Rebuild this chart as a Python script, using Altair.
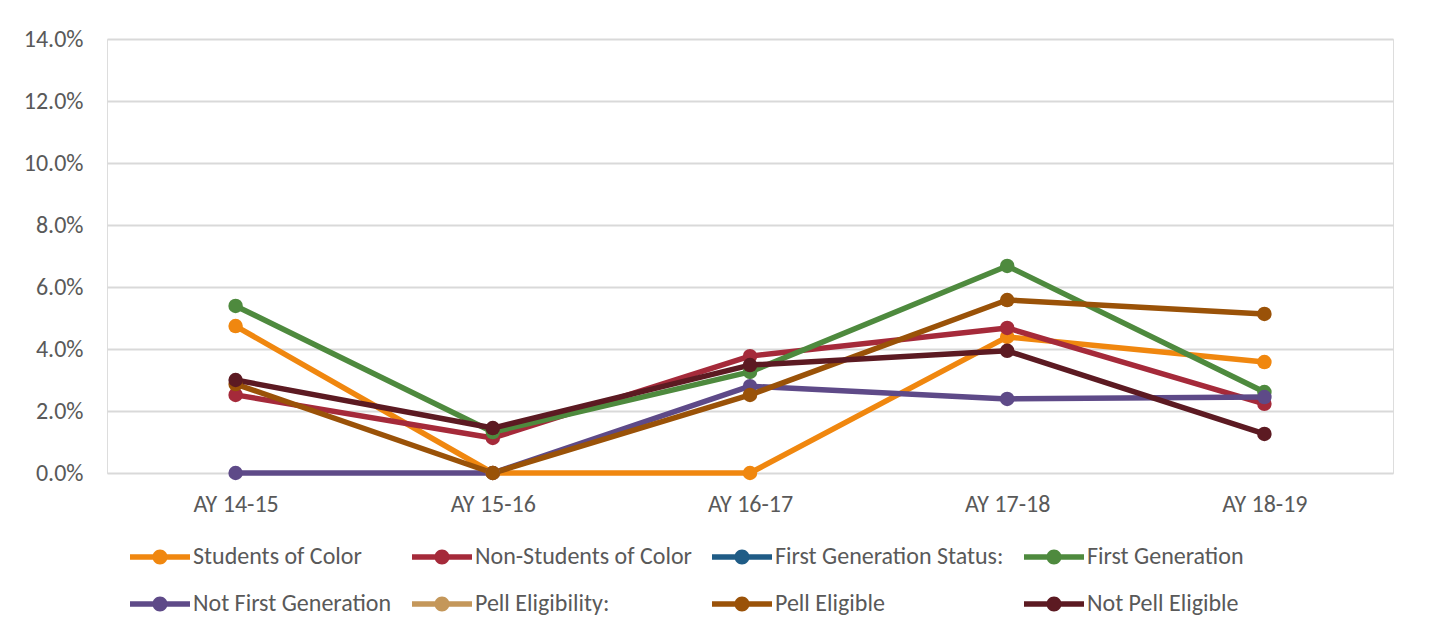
import altair as alt
import pandas as pd

years = ["AY 14-15", "AY 15-16", "AY 16-17", "AY 17-18", "AY 18-19"]
series_names = [
    "Students of Color", "Non-Students of Color", "First Generation Status:",
    "First Generation", "Not First Generation", "Pell Eligibility:",
    "Pell Eligible", "Not Pell Eligible",
]
series_colors = ["#F0870F", "#A52A3A", "#1F5C86", "#4E8A3E",
                 "#5E4A88", "#C4975A", "#9A5208", "#5C1A22"]

students_of_color = [0.0474, 0.0, 0.0, 0.0439, 0.0358]
non_students_of_color = [0.0252, 0.0113, 0.0377, 0.0468, 0.0223]
first_generation_status = []
first_generation = [0.0539, 0.0132, 0.0326, 0.0668, 0.0261]
not_first_generation = [0.0, 0.0, 0.0280, 0.0239, 0.0245]
pell_eligibility = []
pell_eligible = [0.0287, 0.0, 0.0252, 0.0558, 0.0513]
not_pell_eligible = [0.0300, 0.0145, 0.0348, 0.0394, 0.0126]

y_ticks = [0.0, 0.02, 0.04, 0.06, 0.08, 0.10, 0.12, 0.14]

all_values = [students_of_color, non_students_of_color, first_generation_status,
              first_generation, not_first_generation, pell_eligibility,
              pell_eligible, not_pell_eligible]

rows = []
for order, (name, vals) in enumerate(zip(series_names, all_values)):
    for yr, v in zip(years, vals):
        rows.append({"year": yr, "series": name, "value": v, "ord": order})
df = pd.DataFrame(rows)

FONT = "Calibri, Carlito, Lato, sans-serif"
TEXT = "#595959"
FS = 24

color_scale = alt.Scale(domain=series_names, range=series_colors)
legend_symbol = ("M -1 -0.09 L 1 -0.09 L 1 0.09 L -1 0.09 Z "
                 "M 0.25 0 A 0.25 0.25 0 1 1 -0.25 0 A 0.25 0.25 0 1 1 0.25 0 Z")

legend = alt.Legend(
    title=None, orient="none", legendX=23, legendY=507,
    direction="horizontal",
    columns=4, columnPadding=20, rowPadding=23,
    symbolType=legend_symbol, symbolSize=3600,
    symbolStrokeWidth=0, symbolOpacity=1,
    clipHeight=22, labelOffset=3, labelFontSize=FS,
    labelColor=TEXT, labelFont=FONT, labelLimit=400,
    padding=0)

x_enc = alt.X("year:O", sort=years, title=None,
              axis=alt.Axis(labelAngle=0, domain=False, ticks=False,
                            labelPadding=19, labelFontSize=FS, labelColor=TEXT,
                            labelFont=FONT))
y_enc = alt.Y("value:Q", title=None,
              scale=alt.Scale(domain=[0, 0.14], nice=False),
              axis=alt.Axis(values=y_ticks, format=".1%", domain=False, ticks=False,
                            labelPadding=24, labelFontSize=FS, labelColor=TEXT,
                            labelFont=FONT, gridColor="#D9D9D9", gridWidth=2))

base = alt.Chart(df)

lines = base.mark_line(strokeWidth=5.5, strokeJoin="round").encode(
    x=x_enc, y=y_enc,
    color=alt.Color("series:N", scale=color_scale, legend=legend),
    detail="series:N",
)

points = base.mark_point(filled=True, size=210, opacity=1).encode(
    x=x_enc, y=y_enc,
    color=alt.Color("series:N", scale=color_scale, legend=legend),
    order="ord:Q",
)

chart = alt.layer(lines, points).properties(
    width=1286, height=434,
    autosize=alt.AutoSizeParams(type="none"),
    padding={"left": 99, "top": 31, "right": 20, "bottom": 150},
).configure_view(stroke=None).configure(background="white")

chart.save("out.html", embed_options={"renderer": "svg", "actions": False})
